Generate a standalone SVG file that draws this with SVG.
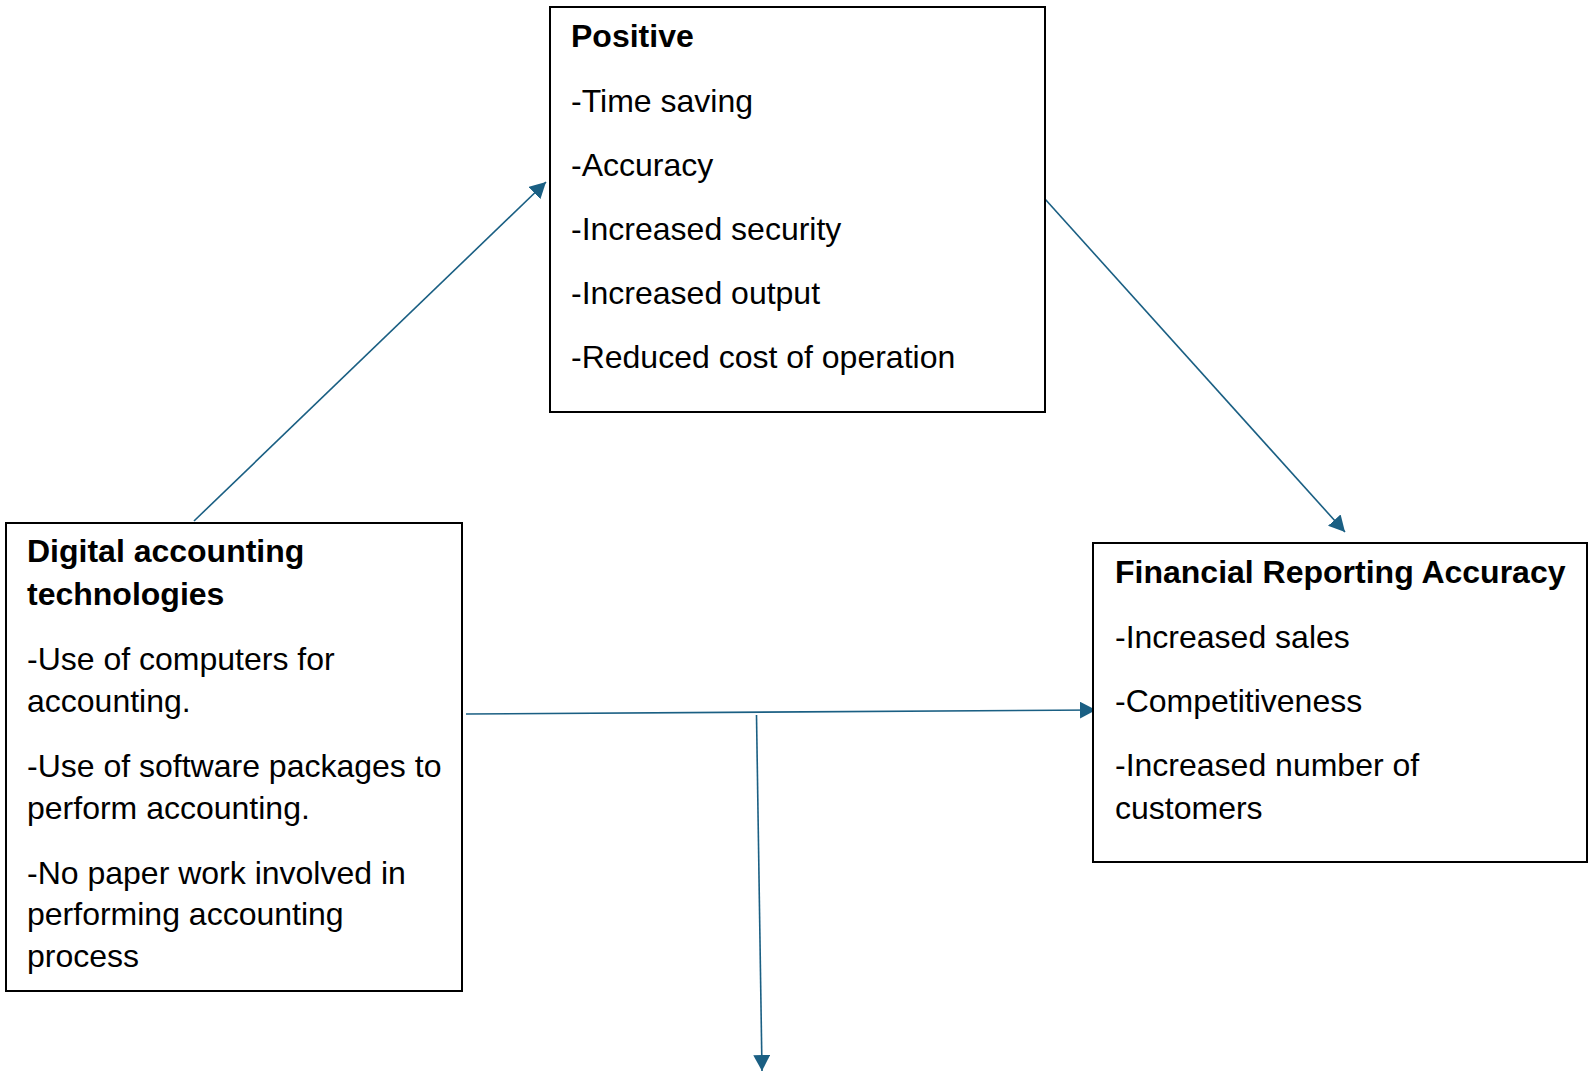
<svg xmlns="http://www.w3.org/2000/svg" width="1588" height="1072" viewBox="0 0 1588 1072">
  <style>
    .box { fill: #ffffff; stroke: #000000; stroke-width: 2; }
    .t { font-family: "Liberation Sans", Arial, sans-serif; font-size: 32px; fill: #000000; }
    .b { font-weight: bold; }
    .link { fill: none; stroke: #1a5f83; stroke-width: 1.6; marker-end: url(#arrow); }
  </style>
  <defs>
    <marker id="arrow" markerUnits="userSpaceOnUse" markerWidth="17" markerHeight="17" refX="16" refY="8.5" orient="auto">
      <path d="M0,0 L16,8.5 L0,17 z" fill="#1a5f83"/>
    </marker>
  </defs>

  <rect width="1588" height="1072" fill="#ffffff"/>

  <!-- connectors -->
  <g id="connectors">
    <line class="link" x1="194" y1="521" x2="546" y2="182"/>
    <line class="link" x1="1045" y1="199" x2="1345" y2="532"/>
    <line class="link" x1="466" y1="714" x2="1096" y2="710"/>
    <line class="link" x1="756.5" y1="715" x2="762" y2="1071"/>
  </g>

  <!-- Positive -->
  <g id="positive">
    <rect class="box" x="550" y="7" width="495" height="405"/>
    <text class="t b" x="571" y="47">Positive</text>
    <text class="t" x="571" y="112">-Time saving</text>
    <text class="t" x="571" y="176">-Accuracy</text>
    <text class="t" x="571" y="240">-Increased security</text>
    <text class="t" x="571" y="304">-Increased output</text>
    <text class="t" x="571" y="368">-Reduced cost of operation</text>
  </g>

  <!-- Digital accounting technologies -->
  <g id="digital">
    <rect class="box" x="6" y="523" width="456" height="468"/>
    <text class="t b" x="27" y="562">Digital accounting</text>
    <text class="t b" x="27" y="605">technologies</text>
    <text class="t" x="27" y="670">-Use of computers for</text>
    <text class="t" x="27" y="712">accounting.</text>
    <text class="t" x="27" y="777">-Use of software packages to</text>
    <text class="t" x="27" y="819">perform accounting.</text>
    <text class="t" x="27" y="884">-No paper work involved in</text>
    <text class="t" x="27" y="925">performing accounting</text>
    <text class="t" x="27" y="967">process</text>
  </g>

  <!-- Financial Reporting Accuracy -->
  <g id="financial">
    <rect class="box" x="1093" y="543" width="494" height="319"/>
    <text class="t b" x="1115" y="583">Financial Reporting Accuracy</text>
    <text class="t" x="1115" y="648">-Increased sales</text>
    <text class="t" x="1115" y="712">-Competitiveness</text>
    <text class="t" x="1115" y="776">-Increased number of</text>
    <text class="t" x="1115" y="819">customers</text>
  </g>
</svg>
